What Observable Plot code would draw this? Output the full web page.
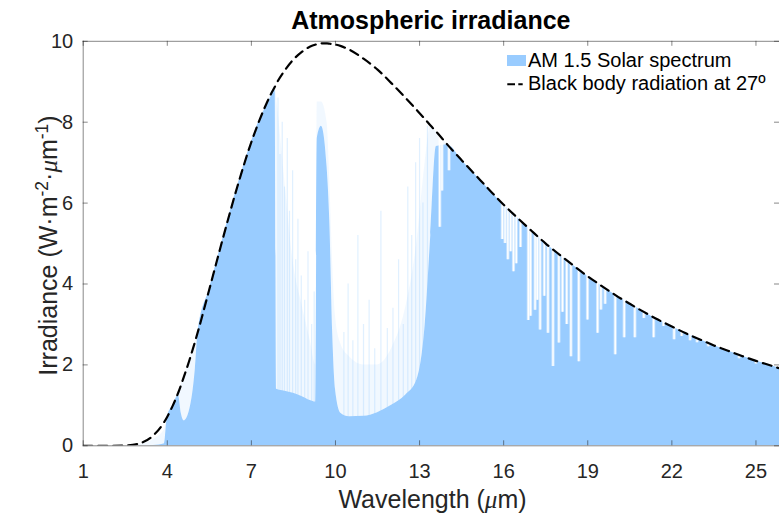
<!DOCTYPE html>
<html>
<head>
<meta charset="utf-8">
<script src="https://cdn.jsdelivr.net/npm/d3@7"></script>
<script src="https://cdn.jsdelivr.net/npm/@observablehq/plot@0.6"></script>
<style>
html, body { margin: 0; padding: 0; background: #fff; overflow: hidden; }
#wrap { position: relative; width: 779px; height: 516px; font-family: "Liberation Sans", Arial, sans-serif; color: #262626; }
#chart { position: absolute; left: 0; top: 0; }
.ov { position: absolute; white-space: nowrap; z-index: 2; }
.title { left: 82.7px; width: 696.3px; top: 8px; text-align: center; font-weight: bold; font-size: 25px; line-height: 25px; color: #000; }
.xlabel { left: 84px; width: 697px; top: 486.5px; text-align: center; font-size: 25px; line-height: 25px; }
.ylabel { left: -151.7px; width: 400px; top: 232.5px; height: 25px; text-align: center; font-size: 25px; line-height: 25px; transform: rotate(-90deg); }
.mu { font-family: "Liberation Serif", "DejaVu Serif", serif; font-style: italic; }
sup { font-size: 0.7em; vertical-align: 0.5em; line-height: 0; }
.leg { font-size: 20px; line-height: 20px; color: #000; left: 528px; }
.swatch { position: absolute; left: 507px; top: 55px; width: 19px; height: 10.5px; background: #99CCFF; z-index: 2; }
</style>
</head>
<body>
<div id="wrap">
  <div id="chart"></div>
  <div class="ov title">Atmospheric irradiance</div>
  <div class="ov xlabel">Wavelength (<span class="mu">μ</span>m)</div>
  <div class="ov ylabel">Irradiance (W·m<sup>-2</sup>·<span class="mu">μ</span>m<sup>-1</sup>)</div>
  <div class="swatch"></div>
  <div class="ov leg" style="top:49.8px">AM 1.5 Solar spectrum</div>
  <svg class="ov" style="left:505px;top:78px" width="22" height="12"><line x1="2.3" y1="6.3" x2="17.7" y2="6.3" stroke="#000" stroke-width="2" stroke-dasharray="7.7,3.3"/></svg>
  <div class="ov leg" style="top:73.1px">Black body radiation at 27º</div>
</div>
<script>
// Wavelength grid (µm)
const wavelength = [1.0, 1.5, 2.0, 2.5, 3.0, 3.5, 3.9, 4.0, 4.2, 4.4, 4.5, 4.6, 4.8, 5.0, 5.1, 5.5, 6.0, 6.5, 7.0, 7.3, 7.5, 7.7, 7.85, 7.9, 8.2, 8.5, 8.8, 9.1, 9.3, 9.35, 9.5, 9.7, 9.8, 9.9, 10.0, 10.2, 10.5, 11.0, 11.5, 12.0, 12.5, 12.9, 13.2, 13.4, 13.6, 14.0, 14.5, 15.0, 15.5, 16.0, 16.5, 17.0, 17.5, 18.0, 18.5, 19.0, 19.5, 20.0, 20.5, 21.0, 21.5, 22.0, 22.5, 23.0, 23.5, 24.0, 24.5, 25.0, 25.5, 26.0];
// Black body radiation at 27º (dashed curve)
const blackBody = [0, 0, 0, 0.006, 0.056, 0.255, 0.60, 0.72, 1.00, 1.33, 1.52, 1.72, 2.14, 2.60, 2.84, 3.87, 5.17, 6.41, 7.51, 8.07, 8.40, 8.70, 8.89, 8.96, 9.29, 9.55, 9.74, 9.87, 9.92, 9.93, 9.95, 9.95, 9.94, 9.93, 9.92, 9.88, 9.79, 9.57, 9.30, 8.96, 8.60, 8.30, 8.07, 7.91, 7.76, 7.44, 7.06, 6.69, 6.32, 5.96, 5.63, 5.31, 5.00, 4.72, 4.45, 4.19, 3.95, 3.72, 3.51, 3.31, 3.12, 2.95, 2.78, 2.63, 2.48, 2.35, 2.22, 2.10, 1.99, 1.88];
// Spectrum: solid part (lower envelope of the absorption lines)
const spectrumLow = [0, 0, 0, 0, 0, 0.01, 0.05, 0.70, 1.00, 1.25, 0.80, 0.62, 0.90, 1.90, 2.84, 3.87, 5.17, 6.41, 7.51, 8.07, 8.35, 8.62, 8.80, 1.40, 1.35, 1.30, 1.22, 1.12, 1.08, 7.60, 7.90, 6.90, 5.50, 2.80, 1.40, 0.80, 0.72, 0.73, 0.82, 1.00, 1.25, 1.62, 3.00, 5.20, 7.40, 7.44, 7.06, 6.69, 6.32, 5.96, 5.63, 5.31, 5.00, 4.72, 4.45, 4.19, 3.95, 3.72, 3.51, 3.31, 3.12, 2.95, 2.78, 2.63, 2.48, 2.35, 2.22, 2.10, 1.99, 1.88];
// Spectrum: upper envelope of the line forest (faded)
const spectrumHigh = [0, 0, 0, 0, 0.03, 0.15, 0.40, 0.72, 1.00, 1.33, 1.52, 1.72, 2.14, 2.60, 2.84, 3.87, 5.17, 6.41, 7.51, 8.07, 8.40, 8.70, 8.89, 8.60, 6.50, 4.50, 3.50, 2.60, 2.00, 8.50, 8.50, 8.00, 6.50, 4.50, 3.20, 2.50, 2.20, 2.00, 2.00, 2.40, 3.40, 5.00, 7.00, 7.91, 7.76, 7.44, 7.06, 6.69, 6.32, 5.96, 5.63, 5.31, 5.00, 4.72, 4.45, 4.19, 3.95, 3.72, 3.51, 3.31, 3.12, 2.95, 2.78, 2.63, 2.48, 2.35, 2.22, 2.10, 1.99, 1.88];
// Individual absorption lines (wavelength, lowest value reached)
const lineWl = [13.72, 13.8, 14.05, 15.95, 16.05, 16.15, 16.25, 16.35, 16.45, 16.6, 16.88, 16.96, 17.12, 17.2, 17.3, 17.45, 17.58, 17.76, 17.97, 18.1, 18.25, 18.4, 18.68, 18.99, 19.35, 19.47, 19.62, 19.98, 20.3, 20.68, 21.0, 21.35, 21.7, 22.08, 22.35, 22.65, 22.9, 23.3, 24.4, 25.0];
const lineDepth = [5.4, 6.3, 6.8, 5.1, 5.0, 4.6, 4.8, 4.3, 4.5, 4.9, 3.1, 3.2, 3.35, 3.6, 2.86, 3.7, 2.78, 1.96, 2.54, 3.3, 3.0, 2.2, 2.08, 3.11, 2.78, 3.36, 3.5, 2.25, 2.67, 2.67, 3.15, 2.67, 2.95, 2.62, 2.7, 2.6, 2.55, 2.45, 2.15, 2.02];
// Faint emission streaks inside the absorption windows (wavelength, top value)
const streakWl = [7.95, 8.02, 8.1, 8.18, 8.28, 8.36, 8.47, 8.58, 8.66, 8.78, 8.9, 9.02, 9.15, 9.24, 10.3, 10.45, 10.62, 10.8, 11.0, 11.2, 11.4, 11.62, 11.85, 12.05, 12.25, 12.42, 12.58, 12.72, 12.86, 13.0, 13.12, 13.28];
const streakTop = [8.6, 7.2, 8.0, 6.4, 7.6, 5.8, 6.8, 4.6, 5.6, 4.2, 3.6, 4.8, 3.0, 3.8, 2.8, 4.0, 2.6, 5.2, 3.0, 3.6, 2.4, 5.8, 2.9, 3.4, 4.6, 3.0, 6.4, 5.2, 7.0, 7.6, 6.0, 7.9];
// Axes
const xTicks = [1, 4, 7, 10, 13, 16, 19, 22, 25];
const yTicks = [0, 2, 4, 6, 8, 10];
const xDomain = [1, 25.84];
const yDomain = [0, 10];

const rows = wavelength.map((w, i) => ({wl: w, bb: blackBody[i], low: spectrumLow[i], high: spectrumHigh[i]}));
const lines = lineWl.map((w, i) => ({wl: w, depth: lineDepth[i]}));
const streaks = streakWl.map((w, i) => ({wl: w, top: streakTop[i]}));

const BLUE = "#99CCFF";
const AX = {stroke: "#262626", strokeOpacity: 0.55, strokeWidth: 1};

const chart = Plot.plot({
  width: 779,
  height: 516,
  marginLeft: 82.7,
  marginRight: 0,
  marginTop: 40.8,
  marginBottom: 70.7,
  x: {domain: xDomain},
  y: {domain: yDomain},
  style: {fontFamily: '"Liberation Sans", Arial, sans-serif', fontSize: "20px", color: "#262626", background: "white"},
  marks: [
    Plot.ruleX(streaks, {x: "wl", y1: yDomain[0], y2: "top", stroke: BLUE, strokeOpacity: 0.3, strokeWidth: 1.2, clip: true}),
    Plot.areaY(rows, {x: "wl", y1: "low", y2: "high", fill: BLUE, fillOpacity: 0.14, curve: "monotone-x", clip: true}),
    Plot.areaY(rows, {x: "wl", y1: yDomain[0], y2: "low", fill: BLUE, curve: "monotone-x", clip: true}),
    Plot.ruleX(lines, {x: "wl", y1: "depth", y2: yDomain[1], stroke: "white", strokeWidth: 3.2, strokeOpacity: 0.5, clip: true}),
    Plot.ruleX(lines, {x: "wl", y1: "depth", y2: yDomain[1], stroke: "white", strokeWidth: 1.4, clip: true}),
    // frame (left, bottom, top)
    Plot.ruleY([yDomain[0], yDomain[1]], AX),
    Plot.ruleX([xDomain[0]], AX),
    // inward ticks
    Plot.ruleX(xTicks, {x: d => d, y1: yDomain[0], y2: yDomain[0], insetTop: -5, ...AX}),
    Plot.ruleX(xTicks, {x: d => d, y1: yDomain[1], y2: yDomain[1], insetBottom: -5, ...AX}),
    Plot.ruleY(yTicks, {y: d => d, x1: xDomain[0], x2: xDomain[0], insetRight: -5, ...AX}),
    Plot.ruleY(yTicks, {y: d => d, x1: xDomain[1], x2: xDomain[1], insetLeft: -5, ...AX}),
    // black body curve
    Plot.line(rows, {x: "wl", y: "bb", stroke: "black", strokeWidth: 2.2, strokeDasharray: "9,6", curve: "monotone-x", clip: true}),
    Plot.axisX({ticks: xTicks, tickSize: 0, tickPadding: 18, label: null, fontSize: 20}),
    Plot.axisY({ticks: yTicks, tickSize: 0, tickPadding: 10, label: null, fontSize: 20})
  ]
});
document.getElementById("chart").appendChild(chart);
</script>
</body>
</html>
